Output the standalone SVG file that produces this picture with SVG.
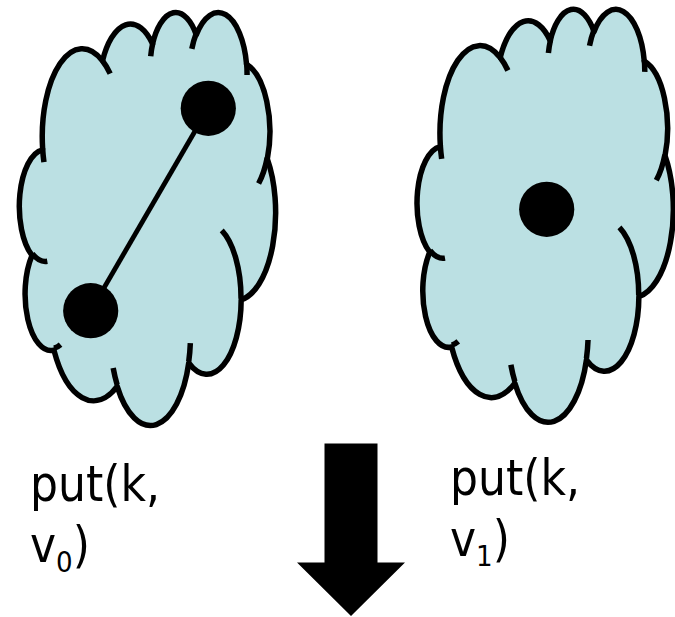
<svg xmlns="http://www.w3.org/2000/svg" width="675" height="617" viewBox="0 0 675 617">
  <defs>
    <style>
      .cloud-body { fill: #bbe0e3; stroke: #000; stroke-width: 5.5; stroke-linejoin: round; }
      .cloud-crease { fill: none; stroke: #000; stroke-width: 5.5; stroke-linecap: butt; }
      .dot { fill: #000; }
      .edge { stroke: #000; stroke-width: 4.8; fill: none; }
      .label { font-family: "DejaVu Sans Condensed", "DejaVu Sans", sans-serif; font-stretch: condensed; font-size: 49px; fill: #000; }
      .sub { font-size: 29px; }
    </style>
    <!-- Cloud outline in a 43200 x 43200 unit box -->
    <g id="cloudShape">
      <path class="cloud-body" vector-effect="non-scaling-stroke" d="M3900,14370 A6753,9190 0 0 1 14005.1,5201.9 A5333,7267 0 0 1 22458.3,3433.6 A4365,5945 0 0 1 29834.6,2480.6 A4857,6595 0 0 1 38319.5,5576.4 A5333,7273 0 0 1 41819.9,15460 A6775,9220 0 0 1 37407.1,30205.6 A5785,7867 0 0 1 28558.7,36816.1 A6752,9215 0 0 1 16484.5,39270 A7720,10543 0 0 1 5808.9,35477 A4360,5918 0 0 1 2116.4,25557.1 A4345,5945 0 0 1 3867.7,14513.4 Z"/>
      <path class="cloud-crease" vector-effect="non-scaling-stroke" d="M4693,26177 A4345,5945 0 0 1 2159.9,25380 M6928,34899 A4360,5918 0 0 1 5819.9,35280.3 M16478,39090 A6752,9215 0 0 1 15808.8,37346.9 M28827,34751 A6752,9215 0 0 1 28560.3,36660.2 M34129,22954 A5785,7867 0 0 1 37380.5,30089.6 M41798,15354 A5333,7273 0 0 1 40349.7,18030.3 M38324,5426 A4857,6595 0 0 1 38400.5,6689.7 M29078,3952 A4857,6595 0 0 1 29819.9,2339.9 M22141,4720 A4365,5945 0 0 1 22500.1,3330.5 M14000,5192 A6753,9190 0 0 1 15302.4,6543.7 M4127,15789 A6753,9190 0 0 1 3900.2,14370.7"/>
    </g>
  </defs>

  <!-- Left cloud: two nodes joined by an edge -->
  <g id="cloud-left">
    <use href="#cloudShape" transform="translate(19.5,11.14) scale(0.005926,0.009556)"/>
  </g>

  <!-- Right cloud: a single node -->
  <g id="cloud-right">
    <use href="#cloudShape" transform="translate(417.2,7.94) scale(0.005926,0.009556)"/>
  </g>

  <g id="connectors">
    <line class="edge" x1="208.3" y1="108.3" x2="90.7" y2="310.7"/>
  </g>

  <g id="node-a"><circle class="dot" cx="208.3" cy="108.3" r="27.6"/></g>
  <g id="node-b"><circle class="dot" cx="90.7" cy="310.7" r="27.6"/></g>
  <g id="node-c"><circle class="dot" cx="546.7" cy="209.3" r="27.6"/></g>

  <!-- Operation labels -->
  <g id="label-left">
    <text class="label" x="30" y="501">put(k,</text>
    <text class="label" x="30" y="561.5">v<tspan class="sub" dy="10">0</tspan><tspan dy="-10">)</tspan></text>
  </g>
  <g id="label-right">
    <text class="label" x="450" y="495">put(k,</text>
    <text class="label" x="450" y="556">v<tspan class="sub" dy="10">1</tspan><tspan dy="-10">)</tspan></text>
  </g>

  <!-- Block arrow pointing down -->
  <g id="arrow-down">
    <polygon fill="#000" points="324.5,443.5 377.5,443.5 377.5,562.5 405,562.5 351,616 297,562.5 324.5,562.5"/>
  </g>
</svg>
